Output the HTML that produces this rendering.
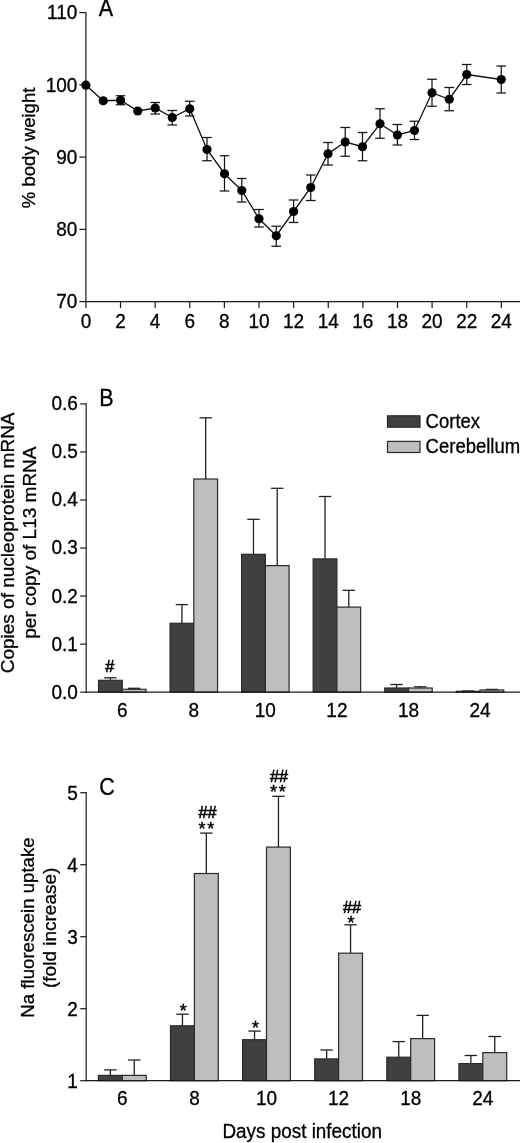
<!DOCTYPE html>
<html lang="en">
<head>
<meta charset="utf-8">
<title>Figure</title>
<style>
html,body{margin:0;padding:0;background:#fff;}
body{width:520px;height:1143px;overflow:hidden;}
svg{display:block;will-change:transform;}
svg text{font-family:"Liberation Sans",Arial,Helvetica,sans-serif;fill:#000;stroke:#000;stroke-width:0.3px;}
</style>
</head>
<body>
<svg width="520" height="1143" viewBox="0 0 520 1143">
<rect x="0" y="0" width="520" height="1143" fill="#ffffff"/>
<line x1="85.90" y1="12.00" x2="85.90" y2="302.20" stroke="#1a1a1a" stroke-width="1.2"/>
<line x1="79.30" y1="301.60" x2="85.90" y2="301.60" stroke="#1a1a1a" stroke-width="1.2"/>
<text transform="translate(77.40,308.30) scale(1,1.05)" text-anchor="end" font-size="19.0" >70</text>
<line x1="79.30" y1="229.35" x2="85.90" y2="229.35" stroke="#1a1a1a" stroke-width="1.2"/>
<text transform="translate(77.40,236.05) scale(1,1.05)" text-anchor="end" font-size="19.0" >80</text>
<line x1="79.30" y1="157.10" x2="85.90" y2="157.10" stroke="#1a1a1a" stroke-width="1.2"/>
<text transform="translate(77.40,163.80) scale(1,1.05)" text-anchor="end" font-size="19.0" >90</text>
<line x1="79.30" y1="84.85" x2="85.90" y2="84.85" stroke="#1a1a1a" stroke-width="1.2"/>
<text transform="translate(77.40,91.55) scale(1,1.05)" text-anchor="end" font-size="19.0" >100</text>
<line x1="79.30" y1="12.60" x2="85.90" y2="12.60" stroke="#1a1a1a" stroke-width="1.2"/>
<text transform="translate(77.40,19.30) scale(1,1.05)" text-anchor="end" font-size="19.0" >110</text>
<line x1="85.30" y1="301.60" x2="520.00" y2="301.60" stroke="#1a1a1a" stroke-width="1.2"/>
<line x1="85.90" y1="301.60" x2="85.90" y2="308.00" stroke="#1a1a1a" stroke-width="1.2"/>
<text transform="translate(85.90,327.80) scale(1,1.05)" text-anchor="middle" font-size="19.0" >0</text>
<line x1="120.52" y1="301.60" x2="120.52" y2="308.00" stroke="#1a1a1a" stroke-width="1.2"/>
<text transform="translate(120.52,327.80) scale(1,1.05)" text-anchor="middle" font-size="19.0" >2</text>
<line x1="155.14" y1="301.60" x2="155.14" y2="308.00" stroke="#1a1a1a" stroke-width="1.2"/>
<text transform="translate(155.14,327.80) scale(1,1.05)" text-anchor="middle" font-size="19.0" >4</text>
<line x1="189.76" y1="301.60" x2="189.76" y2="308.00" stroke="#1a1a1a" stroke-width="1.2"/>
<text transform="translate(189.76,327.80) scale(1,1.05)" text-anchor="middle" font-size="19.0" >6</text>
<line x1="224.38" y1="301.60" x2="224.38" y2="308.00" stroke="#1a1a1a" stroke-width="1.2"/>
<text transform="translate(224.38,327.80) scale(1,1.05)" text-anchor="middle" font-size="19.0" >8</text>
<line x1="259.00" y1="301.60" x2="259.00" y2="308.00" stroke="#1a1a1a" stroke-width="1.2"/>
<text transform="translate(259.00,327.80) scale(1,1.05)" text-anchor="middle" font-size="19.0" >10</text>
<line x1="293.62" y1="301.60" x2="293.62" y2="308.00" stroke="#1a1a1a" stroke-width="1.2"/>
<text transform="translate(293.62,327.80) scale(1,1.05)" text-anchor="middle" font-size="19.0" >12</text>
<line x1="328.24" y1="301.60" x2="328.24" y2="308.00" stroke="#1a1a1a" stroke-width="1.2"/>
<text transform="translate(328.24,327.80) scale(1,1.05)" text-anchor="middle" font-size="19.0" >14</text>
<line x1="362.86" y1="301.60" x2="362.86" y2="308.00" stroke="#1a1a1a" stroke-width="1.2"/>
<text transform="translate(362.86,327.80) scale(1,1.05)" text-anchor="middle" font-size="19.0" >16</text>
<line x1="397.48" y1="301.60" x2="397.48" y2="308.00" stroke="#1a1a1a" stroke-width="1.2"/>
<text transform="translate(397.48,327.80) scale(1,1.05)" text-anchor="middle" font-size="19.0" >18</text>
<line x1="432.10" y1="301.60" x2="432.10" y2="308.00" stroke="#1a1a1a" stroke-width="1.2"/>
<text transform="translate(432.10,327.80) scale(1,1.05)" text-anchor="middle" font-size="19.0" >20</text>
<line x1="466.72" y1="301.60" x2="466.72" y2="308.00" stroke="#1a1a1a" stroke-width="1.2"/>
<text transform="translate(466.72,327.80) scale(1,1.05)" text-anchor="middle" font-size="19.0" >22</text>
<line x1="501.34" y1="301.60" x2="501.34" y2="308.00" stroke="#1a1a1a" stroke-width="1.2"/>
<text transform="translate(501.34,327.80) scale(1,1.05)" text-anchor="middle" font-size="19.0" >24</text>
<text transform="translate(105.90,15.80) scale(1,1.14)" text-anchor="middle" font-size="21.5" >A</text>
<text transform="translate(35.40,147.90) rotate(-90)" text-anchor="middle" font-size="18.55">% body weight</text>
<polyline points="85.90,85.20 103.25,100.75 120.50,100.25 137.75,111.00 155.25,108.00 172.25,117.50 189.75,108.75 207.00,149.50 224.50,173.75 241.75,190.50 259.00,218.75 276.25,235.75 293.60,211.50 310.75,187.50 328.00,153.75 345.25,142.00 362.50,146.75 380.00,123.75 397.40,135.00 414.50,130.50 432.00,92.75 449.25,99.25 466.75,74.50 501.25,79.50" fill="none" stroke="#111" stroke-width="1.3"/>
<line x1="120.50" y1="95.75" x2="120.50" y2="104.75" stroke="#151515" stroke-width="1.25"/>
<line x1="115.70" y1="95.75" x2="125.30" y2="95.75" stroke="#151515" stroke-width="1.25"/>
<line x1="115.70" y1="104.75" x2="125.30" y2="104.75" stroke="#151515" stroke-width="1.25"/>
<line x1="155.25" y1="102.50" x2="155.25" y2="114.00" stroke="#151515" stroke-width="1.25"/>
<line x1="150.45" y1="102.50" x2="160.05" y2="102.50" stroke="#151515" stroke-width="1.25"/>
<line x1="150.45" y1="114.00" x2="160.05" y2="114.00" stroke="#151515" stroke-width="1.25"/>
<line x1="172.25" y1="110.50" x2="172.25" y2="125.00" stroke="#151515" stroke-width="1.25"/>
<line x1="167.45" y1="110.50" x2="177.05" y2="110.50" stroke="#151515" stroke-width="1.25"/>
<line x1="167.45" y1="125.00" x2="177.05" y2="125.00" stroke="#151515" stroke-width="1.25"/>
<line x1="189.75" y1="101.25" x2="189.75" y2="116.00" stroke="#151515" stroke-width="1.25"/>
<line x1="184.95" y1="101.25" x2="194.55" y2="101.25" stroke="#151515" stroke-width="1.25"/>
<line x1="184.95" y1="116.00" x2="194.55" y2="116.00" stroke="#151515" stroke-width="1.25"/>
<line x1="207.00" y1="137.50" x2="207.00" y2="160.75" stroke="#151515" stroke-width="1.25"/>
<line x1="202.20" y1="137.50" x2="211.80" y2="137.50" stroke="#151515" stroke-width="1.25"/>
<line x1="202.20" y1="160.75" x2="211.80" y2="160.75" stroke="#151515" stroke-width="1.25"/>
<line x1="224.50" y1="155.75" x2="224.50" y2="191.00" stroke="#151515" stroke-width="1.25"/>
<line x1="219.70" y1="155.75" x2="229.30" y2="155.75" stroke="#151515" stroke-width="1.25"/>
<line x1="219.70" y1="191.00" x2="229.30" y2="191.00" stroke="#151515" stroke-width="1.25"/>
<line x1="241.75" y1="178.50" x2="241.75" y2="202.00" stroke="#151515" stroke-width="1.25"/>
<line x1="236.95" y1="178.50" x2="246.55" y2="178.50" stroke="#151515" stroke-width="1.25"/>
<line x1="236.95" y1="202.00" x2="246.55" y2="202.00" stroke="#151515" stroke-width="1.25"/>
<line x1="259.00" y1="209.50" x2="259.00" y2="227.00" stroke="#151515" stroke-width="1.25"/>
<line x1="254.20" y1="209.50" x2="263.80" y2="209.50" stroke="#151515" stroke-width="1.25"/>
<line x1="254.20" y1="227.00" x2="263.80" y2="227.00" stroke="#151515" stroke-width="1.25"/>
<line x1="276.25" y1="226.25" x2="276.25" y2="246.25" stroke="#151515" stroke-width="1.25"/>
<line x1="271.45" y1="226.25" x2="281.05" y2="226.25" stroke="#151515" stroke-width="1.25"/>
<line x1="271.45" y1="246.25" x2="281.05" y2="246.25" stroke="#151515" stroke-width="1.25"/>
<line x1="293.60" y1="200.00" x2="293.60" y2="222.50" stroke="#151515" stroke-width="1.25"/>
<line x1="288.80" y1="200.00" x2="298.40" y2="200.00" stroke="#151515" stroke-width="1.25"/>
<line x1="288.80" y1="222.50" x2="298.40" y2="222.50" stroke="#151515" stroke-width="1.25"/>
<line x1="310.75" y1="175.00" x2="310.75" y2="200.50" stroke="#151515" stroke-width="1.25"/>
<line x1="305.95" y1="175.00" x2="315.55" y2="175.00" stroke="#151515" stroke-width="1.25"/>
<line x1="305.95" y1="200.50" x2="315.55" y2="200.50" stroke="#151515" stroke-width="1.25"/>
<line x1="328.00" y1="142.50" x2="328.00" y2="165.00" stroke="#151515" stroke-width="1.25"/>
<line x1="323.20" y1="142.50" x2="332.80" y2="142.50" stroke="#151515" stroke-width="1.25"/>
<line x1="323.20" y1="165.00" x2="332.80" y2="165.00" stroke="#151515" stroke-width="1.25"/>
<line x1="345.25" y1="127.50" x2="345.25" y2="156.25" stroke="#151515" stroke-width="1.25"/>
<line x1="340.45" y1="127.50" x2="350.05" y2="127.50" stroke="#151515" stroke-width="1.25"/>
<line x1="340.45" y1="156.25" x2="350.05" y2="156.25" stroke="#151515" stroke-width="1.25"/>
<line x1="362.50" y1="132.50" x2="362.50" y2="160.75" stroke="#151515" stroke-width="1.25"/>
<line x1="357.70" y1="132.50" x2="367.30" y2="132.50" stroke="#151515" stroke-width="1.25"/>
<line x1="357.70" y1="160.75" x2="367.30" y2="160.75" stroke="#151515" stroke-width="1.25"/>
<line x1="380.00" y1="108.75" x2="380.00" y2="138.25" stroke="#151515" stroke-width="1.25"/>
<line x1="375.20" y1="108.75" x2="384.80" y2="108.75" stroke="#151515" stroke-width="1.25"/>
<line x1="375.20" y1="138.25" x2="384.80" y2="138.25" stroke="#151515" stroke-width="1.25"/>
<line x1="397.40" y1="124.50" x2="397.40" y2="145.00" stroke="#151515" stroke-width="1.25"/>
<line x1="392.60" y1="124.50" x2="402.20" y2="124.50" stroke="#151515" stroke-width="1.25"/>
<line x1="392.60" y1="145.00" x2="402.20" y2="145.00" stroke="#151515" stroke-width="1.25"/>
<line x1="414.50" y1="121.25" x2="414.50" y2="139.50" stroke="#151515" stroke-width="1.25"/>
<line x1="409.70" y1="121.25" x2="419.30" y2="121.25" stroke="#151515" stroke-width="1.25"/>
<line x1="409.70" y1="139.50" x2="419.30" y2="139.50" stroke="#151515" stroke-width="1.25"/>
<line x1="432.00" y1="79.25" x2="432.00" y2="106.25" stroke="#151515" stroke-width="1.25"/>
<line x1="427.20" y1="79.25" x2="436.80" y2="79.25" stroke="#151515" stroke-width="1.25"/>
<line x1="427.20" y1="106.25" x2="436.80" y2="106.25" stroke="#151515" stroke-width="1.25"/>
<line x1="449.25" y1="87.50" x2="449.25" y2="110.75" stroke="#151515" stroke-width="1.25"/>
<line x1="444.45" y1="87.50" x2="454.05" y2="87.50" stroke="#151515" stroke-width="1.25"/>
<line x1="444.45" y1="110.75" x2="454.05" y2="110.75" stroke="#151515" stroke-width="1.25"/>
<line x1="466.75" y1="64.50" x2="466.75" y2="84.50" stroke="#151515" stroke-width="1.25"/>
<line x1="461.95" y1="64.50" x2="471.55" y2="64.50" stroke="#151515" stroke-width="1.25"/>
<line x1="461.95" y1="84.50" x2="471.55" y2="84.50" stroke="#151515" stroke-width="1.25"/>
<line x1="501.25" y1="66.00" x2="501.25" y2="93.00" stroke="#151515" stroke-width="1.25"/>
<line x1="496.45" y1="66.00" x2="506.05" y2="66.00" stroke="#151515" stroke-width="1.25"/>
<line x1="496.45" y1="93.00" x2="506.05" y2="93.00" stroke="#151515" stroke-width="1.25"/>
<circle cx="85.90" cy="85.20" r="4.6" fill="#000"/>
<circle cx="103.25" cy="100.75" r="4.6" fill="#000"/>
<circle cx="120.50" cy="100.25" r="4.6" fill="#000"/>
<circle cx="137.75" cy="111.00" r="4.6" fill="#000"/>
<circle cx="155.25" cy="108.00" r="4.6" fill="#000"/>
<circle cx="172.25" cy="117.50" r="4.6" fill="#000"/>
<circle cx="189.75" cy="108.75" r="4.6" fill="#000"/>
<circle cx="207.00" cy="149.50" r="4.6" fill="#000"/>
<circle cx="224.50" cy="173.75" r="4.6" fill="#000"/>
<circle cx="241.75" cy="190.50" r="4.6" fill="#000"/>
<circle cx="259.00" cy="218.75" r="4.6" fill="#000"/>
<circle cx="276.25" cy="235.75" r="4.6" fill="#000"/>
<circle cx="293.60" cy="211.50" r="4.6" fill="#000"/>
<circle cx="310.75" cy="187.50" r="4.6" fill="#000"/>
<circle cx="328.00" cy="153.75" r="4.6" fill="#000"/>
<circle cx="345.25" cy="142.00" r="4.6" fill="#000"/>
<circle cx="362.50" cy="146.75" r="4.6" fill="#000"/>
<circle cx="380.00" cy="123.75" r="4.6" fill="#000"/>
<circle cx="397.40" cy="135.00" r="4.6" fill="#000"/>
<circle cx="414.50" cy="130.50" r="4.6" fill="#000"/>
<circle cx="432.00" cy="92.75" r="4.6" fill="#000"/>
<circle cx="449.25" cy="99.25" r="4.6" fill="#000"/>
<circle cx="466.75" cy="74.50" r="4.6" fill="#000"/>
<circle cx="501.25" cy="79.50" r="4.6" fill="#000"/>
<line x1="86.20" y1="403.30" x2="86.20" y2="692.80" stroke="#1a1a1a" stroke-width="1.2"/>
<line x1="80.20" y1="692.20" x2="86.20" y2="692.20" stroke="#1a1a1a" stroke-width="1.2"/>
<text transform="translate(77.90,698.60) scale(1,1.05)" text-anchor="end" font-size="19.0" >0.0</text>
<line x1="80.20" y1="644.15" x2="86.20" y2="644.15" stroke="#1a1a1a" stroke-width="1.2"/>
<text transform="translate(77.90,650.55) scale(1,1.05)" text-anchor="end" font-size="19.0" >0.1</text>
<line x1="80.20" y1="596.10" x2="86.20" y2="596.10" stroke="#1a1a1a" stroke-width="1.2"/>
<text transform="translate(77.90,602.50) scale(1,1.05)" text-anchor="end" font-size="19.0" >0.2</text>
<line x1="80.20" y1="548.05" x2="86.20" y2="548.05" stroke="#1a1a1a" stroke-width="1.2"/>
<text transform="translate(77.90,554.45) scale(1,1.05)" text-anchor="end" font-size="19.0" >0.3</text>
<line x1="80.20" y1="500.00" x2="86.20" y2="500.00" stroke="#1a1a1a" stroke-width="1.2"/>
<text transform="translate(77.90,506.40) scale(1,1.05)" text-anchor="end" font-size="19.0" >0.4</text>
<line x1="80.20" y1="451.95" x2="86.20" y2="451.95" stroke="#1a1a1a" stroke-width="1.2"/>
<text transform="translate(77.90,458.35) scale(1,1.05)" text-anchor="end" font-size="19.0" >0.5</text>
<line x1="80.20" y1="403.90" x2="86.20" y2="403.90" stroke="#1a1a1a" stroke-width="1.2"/>
<text transform="translate(77.90,410.30) scale(1,1.05)" text-anchor="end" font-size="19.0" >0.6</text>
<text transform="translate(106.40,406.10) scale(1,1.1)" text-anchor="middle" font-size="21.5" >B</text>
<text transform="translate(13.60,542.90) rotate(-90)" text-anchor="middle" font-size="19.0">Copies of nucleoprotein mRNA</text>
<text transform="translate(35.60,542.60) rotate(-90)" text-anchor="middle" font-size="19.0">per copy of L13 mRNA</text>
<line x1="110.38" y1="677.80" x2="110.38" y2="680.30" stroke="#222" stroke-width="1.3"/>
<line x1="104.17" y1="677.80" x2="116.58" y2="677.80" stroke="#222" stroke-width="1.3"/>
<rect x="98.50" y="680.30" width="23.75" height="11.90" fill="#404040" stroke="#2a2a2a" stroke-width="1.2"/>
<line x1="134.12" y1="688.30" x2="134.12" y2="689.30" stroke="#222" stroke-width="1.3"/>
<line x1="127.92" y1="688.30" x2="140.32" y2="688.30" stroke="#222" stroke-width="1.3"/>
<rect x="122.25" y="689.30" width="23.75" height="2.90" fill="#bebebe" stroke="#2a2a2a" stroke-width="1.2"/>
<text transform="translate(122.25,716.80) scale(1,1.05)" text-anchor="middle" font-size="19.0" >6</text>
<line x1="181.93" y1="604.60" x2="181.93" y2="623.30" stroke="#222" stroke-width="1.3"/>
<line x1="175.73" y1="604.60" x2="188.12" y2="604.60" stroke="#222" stroke-width="1.3"/>
<rect x="170.05" y="623.30" width="23.75" height="68.90" fill="#404040" stroke="#2a2a2a" stroke-width="1.2"/>
<line x1="205.68" y1="417.80" x2="205.68" y2="479.00" stroke="#222" stroke-width="1.3"/>
<line x1="199.48" y1="417.80" x2="211.88" y2="417.80" stroke="#222" stroke-width="1.3"/>
<rect x="193.80" y="479.00" width="23.75" height="213.20" fill="#bebebe" stroke="#2a2a2a" stroke-width="1.2"/>
<text transform="translate(193.80,716.80) scale(1,1.05)" text-anchor="middle" font-size="19.0" >8</text>
<line x1="253.47" y1="519.30" x2="253.47" y2="554.30" stroke="#222" stroke-width="1.3"/>
<line x1="247.28" y1="519.30" x2="259.68" y2="519.30" stroke="#222" stroke-width="1.3"/>
<rect x="241.60" y="554.30" width="23.75" height="137.90" fill="#404040" stroke="#2a2a2a" stroke-width="1.2"/>
<line x1="277.23" y1="488.30" x2="277.23" y2="565.60" stroke="#222" stroke-width="1.3"/>
<line x1="271.03" y1="488.30" x2="283.43" y2="488.30" stroke="#222" stroke-width="1.3"/>
<rect x="265.35" y="565.60" width="23.75" height="126.60" fill="#bebebe" stroke="#2a2a2a" stroke-width="1.2"/>
<text transform="translate(265.35,716.80) scale(1,1.05)" text-anchor="middle" font-size="19.0" >10</text>
<line x1="325.02" y1="496.50" x2="325.02" y2="558.90" stroke="#222" stroke-width="1.3"/>
<line x1="318.82" y1="496.50" x2="331.22" y2="496.50" stroke="#222" stroke-width="1.3"/>
<rect x="313.15" y="558.90" width="23.75" height="133.30" fill="#404040" stroke="#2a2a2a" stroke-width="1.2"/>
<line x1="348.77" y1="590.30" x2="348.77" y2="607.10" stroke="#222" stroke-width="1.3"/>
<line x1="342.57" y1="590.30" x2="354.97" y2="590.30" stroke="#222" stroke-width="1.3"/>
<rect x="336.90" y="607.10" width="23.75" height="85.10" fill="#bebebe" stroke="#2a2a2a" stroke-width="1.2"/>
<text transform="translate(336.90,716.80) scale(1,1.05)" text-anchor="middle" font-size="19.0" >12</text>
<line x1="396.57" y1="684.50" x2="396.57" y2="688.00" stroke="#222" stroke-width="1.3"/>
<line x1="390.38" y1="684.50" x2="402.77" y2="684.50" stroke="#222" stroke-width="1.3"/>
<rect x="384.70" y="688.00" width="23.75" height="4.20" fill="#404040" stroke="#2a2a2a" stroke-width="1.2"/>
<line x1="420.32" y1="686.80" x2="420.32" y2="688.00" stroke="#222" stroke-width="1.3"/>
<line x1="414.12" y1="686.80" x2="426.52" y2="686.80" stroke="#222" stroke-width="1.3"/>
<rect x="408.45" y="688.00" width="23.75" height="4.20" fill="#bebebe" stroke="#2a2a2a" stroke-width="1.2"/>
<text transform="translate(408.45,716.80) scale(1,1.05)" text-anchor="middle" font-size="19.0" >18</text>
<line x1="468.12" y1="691.00" x2="468.12" y2="691.30" stroke="#222" stroke-width="1.3"/>
<line x1="461.93" y1="691.00" x2="474.32" y2="691.00" stroke="#222" stroke-width="1.3"/>
<rect x="456.25" y="691.30" width="23.75" height="0.90" fill="#404040" stroke="#2a2a2a" stroke-width="1.2"/>
<line x1="491.88" y1="689.40" x2="491.88" y2="690.00" stroke="#222" stroke-width="1.3"/>
<line x1="485.68" y1="689.40" x2="498.07" y2="689.40" stroke="#222" stroke-width="1.3"/>
<rect x="480.00" y="690.00" width="23.75" height="2.20" fill="#bebebe" stroke="#2a2a2a" stroke-width="1.2"/>
<text transform="translate(480.00,716.80) scale(1,1.05)" text-anchor="middle" font-size="19.0" >24</text>
<line x1="85.60" y1="692.20" x2="520.00" y2="692.20" stroke="#1a1a1a" stroke-width="1.2"/>
<text transform="translate(109.70,671.90) scale(1,1.0)" text-anchor="middle" font-size="16.3" style="stroke-width:0.6px">#</text>
<rect x="387.5" y="415.8" width="32.5" height="11.4" fill="#404040" stroke="#2a2a2a" stroke-width="1.2"/>
<rect x="387.5" y="441.4" width="32.5" height="11.1" fill="#bebebe" stroke="#2a2a2a" stroke-width="1.2"/>
<text transform="translate(425.60,428.30) scale(1,1.05)" text-anchor="start" font-size="18.5" >Cortex</text>
<text transform="translate(425.60,453.20) scale(1,1.05)" text-anchor="start" font-size="18.5" >Cerebellum</text>
<line x1="86.20" y1="792.10" x2="86.20" y2="1081.30" stroke="#1a1a1a" stroke-width="1.2"/>
<line x1="80.20" y1="1080.70" x2="86.20" y2="1080.70" stroke="#1a1a1a" stroke-width="1.2"/>
<text transform="translate(77.80,1087.70) scale(1,1.05)" text-anchor="end" font-size="19.0" >1</text>
<line x1="80.20" y1="1008.70" x2="86.20" y2="1008.70" stroke="#1a1a1a" stroke-width="1.2"/>
<text transform="translate(77.80,1015.70) scale(1,1.05)" text-anchor="end" font-size="19.0" >2</text>
<line x1="80.20" y1="936.70" x2="86.20" y2="936.70" stroke="#1a1a1a" stroke-width="1.2"/>
<text transform="translate(77.80,943.70) scale(1,1.05)" text-anchor="end" font-size="19.0" >3</text>
<line x1="80.20" y1="864.70" x2="86.20" y2="864.70" stroke="#1a1a1a" stroke-width="1.2"/>
<text transform="translate(77.80,871.70) scale(1,1.05)" text-anchor="end" font-size="19.0" >4</text>
<line x1="80.20" y1="792.70" x2="86.20" y2="792.70" stroke="#1a1a1a" stroke-width="1.2"/>
<text transform="translate(77.80,799.70) scale(1,1.05)" text-anchor="end" font-size="19.0" >5</text>
<text transform="translate(106.90,795.30) scale(1,1.13)" text-anchor="middle" font-size="21.5" >C</text>
<text transform="translate(34.10,927.50) rotate(-90)" text-anchor="middle" font-size="18.65">Na fluorescein uptake</text>
<text transform="translate(56.10,927.80) rotate(-90)" text-anchor="middle" font-size="19.0">(fold increase)</text>
<line x1="110.35" y1="1069.90" x2="110.35" y2="1075.40" stroke="#222" stroke-width="1.3"/>
<line x1="104.15" y1="1069.90" x2="116.55" y2="1069.90" stroke="#222" stroke-width="1.3"/>
<rect x="98.40" y="1075.40" width="23.90" height="5.30" fill="#404040" stroke="#2a2a2a" stroke-width="1.2"/>
<line x1="134.25" y1="1060.00" x2="134.25" y2="1075.40" stroke="#222" stroke-width="1.3"/>
<line x1="128.05" y1="1060.00" x2="140.45" y2="1060.00" stroke="#222" stroke-width="1.3"/>
<rect x="122.30" y="1075.40" width="23.90" height="5.30" fill="#bebebe" stroke="#2a2a2a" stroke-width="1.2"/>
<text transform="translate(122.30,1105.20) scale(1,1.05)" text-anchor="middle" font-size="19.0" >6</text>
<line x1="182.45" y1="1014.20" x2="182.45" y2="1025.80" stroke="#222" stroke-width="1.3"/>
<line x1="176.25" y1="1014.20" x2="188.65" y2="1014.20" stroke="#222" stroke-width="1.3"/>
<rect x="170.50" y="1025.80" width="23.90" height="54.90" fill="#404040" stroke="#2a2a2a" stroke-width="1.2"/>
<line x1="206.35" y1="833.10" x2="206.35" y2="873.50" stroke="#222" stroke-width="1.3"/>
<line x1="200.15" y1="833.10" x2="212.55" y2="833.10" stroke="#222" stroke-width="1.3"/>
<rect x="194.40" y="873.50" width="23.90" height="207.20" fill="#bebebe" stroke="#2a2a2a" stroke-width="1.2"/>
<text transform="translate(194.40,1105.20) scale(1,1.05)" text-anchor="middle" font-size="19.0" >8</text>
<line x1="254.55" y1="1031.10" x2="254.55" y2="1039.70" stroke="#222" stroke-width="1.3"/>
<line x1="248.35" y1="1031.10" x2="260.75" y2="1031.10" stroke="#222" stroke-width="1.3"/>
<rect x="242.60" y="1039.70" width="23.90" height="41.00" fill="#404040" stroke="#2a2a2a" stroke-width="1.2"/>
<line x1="278.45" y1="796.30" x2="278.45" y2="847.10" stroke="#222" stroke-width="1.3"/>
<line x1="272.25" y1="796.30" x2="284.65" y2="796.30" stroke="#222" stroke-width="1.3"/>
<rect x="266.50" y="847.10" width="23.90" height="233.60" fill="#bebebe" stroke="#2a2a2a" stroke-width="1.2"/>
<text transform="translate(266.50,1105.20) scale(1,1.05)" text-anchor="middle" font-size="19.0" >10</text>
<line x1="326.65" y1="1050.00" x2="326.65" y2="1058.90" stroke="#222" stroke-width="1.3"/>
<line x1="320.45" y1="1050.00" x2="332.85" y2="1050.00" stroke="#222" stroke-width="1.3"/>
<rect x="314.70" y="1058.90" width="23.90" height="21.80" fill="#404040" stroke="#2a2a2a" stroke-width="1.2"/>
<line x1="350.55" y1="924.80" x2="350.55" y2="953.20" stroke="#222" stroke-width="1.3"/>
<line x1="344.35" y1="924.80" x2="356.75" y2="924.80" stroke="#222" stroke-width="1.3"/>
<rect x="338.60" y="953.20" width="23.90" height="127.50" fill="#bebebe" stroke="#2a2a2a" stroke-width="1.2"/>
<text transform="translate(338.60,1105.20) scale(1,1.05)" text-anchor="middle" font-size="19.0" >12</text>
<line x1="398.75" y1="1041.60" x2="398.75" y2="1057.20" stroke="#222" stroke-width="1.3"/>
<line x1="392.55" y1="1041.60" x2="404.95" y2="1041.60" stroke="#222" stroke-width="1.3"/>
<rect x="386.80" y="1057.20" width="23.90" height="23.50" fill="#404040" stroke="#2a2a2a" stroke-width="1.2"/>
<line x1="422.65" y1="1015.40" x2="422.65" y2="1038.60" stroke="#222" stroke-width="1.3"/>
<line x1="416.45" y1="1015.40" x2="428.85" y2="1015.40" stroke="#222" stroke-width="1.3"/>
<rect x="410.70" y="1038.60" width="23.90" height="42.10" fill="#bebebe" stroke="#2a2a2a" stroke-width="1.2"/>
<text transform="translate(410.70,1105.20) scale(1,1.05)" text-anchor="middle" font-size="19.0" >18</text>
<line x1="470.85" y1="1055.50" x2="470.85" y2="1063.60" stroke="#222" stroke-width="1.3"/>
<line x1="464.65" y1="1055.50" x2="477.05" y2="1055.50" stroke="#222" stroke-width="1.3"/>
<rect x="458.90" y="1063.60" width="23.90" height="17.10" fill="#404040" stroke="#2a2a2a" stroke-width="1.2"/>
<line x1="494.75" y1="1036.50" x2="494.75" y2="1052.60" stroke="#222" stroke-width="1.3"/>
<line x1="488.55" y1="1036.50" x2="500.95" y2="1036.50" stroke="#222" stroke-width="1.3"/>
<rect x="482.80" y="1052.60" width="23.90" height="28.10" fill="#bebebe" stroke="#2a2a2a" stroke-width="1.2"/>
<text transform="translate(482.80,1105.20) scale(1,1.05)" text-anchor="middle" font-size="19.0" >24</text>
<line x1="85.60" y1="1080.70" x2="520.00" y2="1080.70" stroke="#1a1a1a" stroke-width="1.2"/>
<text transform="translate(184.25,1016.90) scale(1,1.0)" text-anchor="middle" font-size="18" letter-spacing="1.8" style="stroke-width:0.45px">*</text>
<text transform="translate(256.40,1033.80) scale(1,1.0)" text-anchor="middle" font-size="18" letter-spacing="1.8" style="stroke-width:0.45px">*</text>
<text transform="translate(207.35,834.60) scale(1,1.0)" text-anchor="middle" font-size="18" letter-spacing="1.8" style="stroke-width:0.45px">**</text>
<text transform="translate(207.60,817.60) scale(1,1.0)" text-anchor="middle" font-size="16.3" style="stroke-width:0.6px">##</text>
<text transform="translate(278.85,798.10) scale(1,1.0)" text-anchor="middle" font-size="18" letter-spacing="1.8" style="stroke-width:0.45px">**</text>
<text transform="translate(279.05,782.20) scale(1,1.0)" text-anchor="middle" font-size="16.3" style="stroke-width:0.6px">##</text>
<text transform="translate(352.00,928.90) scale(1,1.0)" text-anchor="middle" font-size="18" letter-spacing="1.8" style="stroke-width:0.45px">*</text>
<text transform="translate(352.00,912.70) scale(1,1.0)" text-anchor="middle" font-size="16.3" style="stroke-width:0.6px">##</text>
<text transform="translate(302.20,1138.30) scale(1,1.05)" text-anchor="middle" font-size="18.9" >Days post infection</text>
</svg>
</body>
</html>
